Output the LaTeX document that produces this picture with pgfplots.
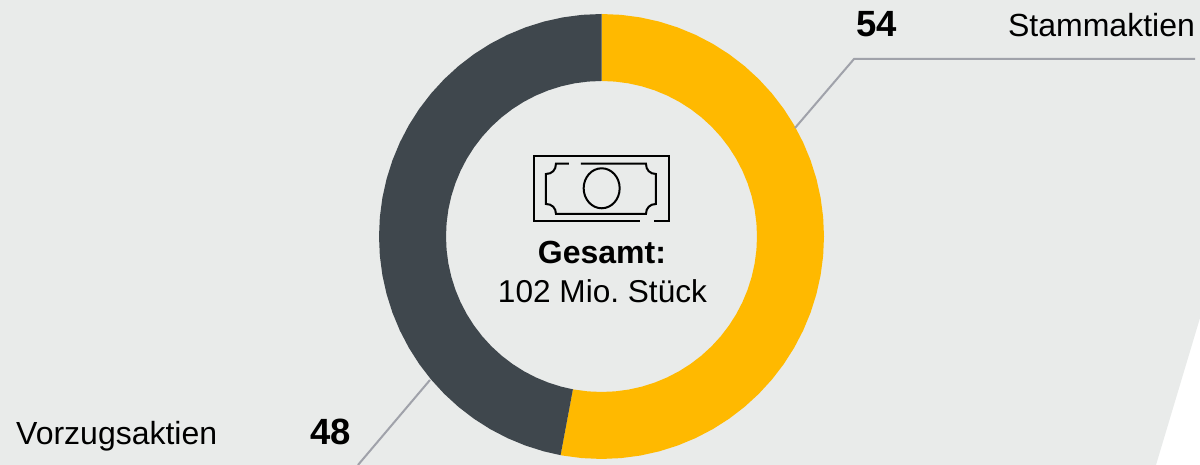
\documentclass[border=0pt]{standalone}
\usepackage{pgfplots}
\pgfplotsset{compat=1.18}
\usepackage{fontspec}
\setmainfont{Liberation Sans}
\frenchspacing
\definecolor{bg}{HTML}{E9EBEA}
\definecolor{gold}{HTML}{FFB900}
\definecolor{slate}{HTML}{3F474D}
\definecolor{leader}{HTML}{A0A2AA}
\begin{document}
\begin{tikzpicture}
\begin{axis}[
  width=1200pt, height=465pt, scale only axis,
  xmin=-601.5, xmax=598.5, ymin=-228.5, ymax=236.5,
  hide axis, no markers,
]
% background panel
\addplot[fill=bg, draw=none] coordinates {(-601.5,236.5) (598.5,236.5) (598.5,-81.5) (554.5,-228.5) (-601.5,-228.5)};
% Stammaktien 54 of 102
\addplot[data cs=polar, fill=gold, draw=none] coordinates {
(90,222.5)(85,222.5)(80,222.5)(75,222.5)(70,222.5)(65,222.5)(60,222.5)(55,222.5)(50,222.5)(45,222.5)(40,222.5)(35,222.5)(30,222.5)(25,222.5)(20,222.5)(15,222.5)(10,222.5)(5,222.5)(0,222.5)
(-5,222.5)(-10,222.5)(-15,222.5)(-20,222.5)(-25,222.5)(-30,222.5)(-35,222.5)(-40,222.5)(-45,222.5)(-50,222.5)(-55,222.5)(-60,222.5)(-65,222.5)(-70,222.5)(-75,222.5)(-80,222.5)(-85,222.5)(-90,222.5)(-95,222.5)(-100,222.5)(-100.6,222.5)
(-100.6,155.5)(-100,155.5)(-95,155.5)(-90,155.5)(-85,155.5)(-80,155.5)(-75,155.5)(-70,155.5)(-65,155.5)(-60,155.5)(-55,155.5)(-50,155.5)(-45,155.5)(-40,155.5)(-35,155.5)(-30,155.5)(-25,155.5)(-20,155.5)(-15,155.5)(-10,155.5)(-5,155.5)
(0,155.5)(5,155.5)(10,155.5)(15,155.5)(20,155.5)(25,155.5)(30,155.5)(35,155.5)(40,155.5)(45,155.5)(50,155.5)(55,155.5)(60,155.5)(65,155.5)(70,155.5)(75,155.5)(80,155.5)(85,155.5)(90,155.5)
};
% Vorzugsaktien 48 of 102
\addplot[data cs=polar, fill=slate, draw=none] coordinates {
(259.4,222.5)(255,222.5)(250,222.5)(245,222.5)(240,222.5)(235,222.5)(230,222.5)(225,222.5)(220,222.5)(215,222.5)(210,222.5)(205,222.5)(200,222.5)(195,222.5)(190,222.5)(185,222.5)(180,222.5)(175,222.5)(170,222.5)(165,222.5)(160,222.5)(155,222.5)(150,222.5)(145,222.5)(140,222.5)(135,222.5)(130,222.5)(125,222.5)(120,222.5)(115,222.5)(110,222.5)(105,222.5)(100,222.5)(95,222.5)(90,222.5)
(90,155.5)(95,155.5)(100,155.5)(105,155.5)(110,155.5)(115,155.5)(120,155.5)(125,155.5)(130,155.5)(135,155.5)(140,155.5)(145,155.5)(150,155.5)(155,155.5)(160,155.5)(165,155.5)(170,155.5)(175,155.5)(180,155.5)(185,155.5)(190,155.5)(195,155.5)(200,155.5)(205,155.5)(210,155.5)(215,155.5)(220,155.5)(225,155.5)(230,155.5)(235,155.5)(240,155.5)(245,155.5)(250,155.5)(255,155.5)(259.4,155.5)
};
% leader lines
\addplot[leader, line width=2pt] coordinates {(193.5,108.5) (252.5,177.5) (593.5,177.5)};
\addplot[leader, line width=2pt] coordinates {(-171.5,-143.5) (-243.5,-228.5)};
\begin{scope}[shift={(axis cs:-601.5,236.5)}, x=1pt, y=-1pt]
  % banknote icon
  \draw[black, line width=2pt, line join=miter]
    (640,221.5) -- (534.5,221.5) -- (534.5,156) -- (669,156) -- (669,221.5) -- (654,221.5);
  \draw[black, line width=2pt]
    (569,163.7) -- (556,163.7) .. controls (556,170) and (552,174) .. (546,174)
    -- (546,204) .. controls (552,204) and (556,208) .. (556,214)
    -- (646,214) .. controls (646,208) and (650,204) .. (656,204)
    -- (656,174) .. controls (650,174) and (646,170) .. (646,163.7) -- (581,163.7);
  \draw[black, line width=2pt] (601.7,188.3) ellipse [x radius=18pt, y radius=20pt];
  % text
  \node[anchor=base, inner sep=0pt, font=\fontsize{32}{36}\selectfont\bfseries] at (602,264) {Gesamt:};
  \node[anchor=base, inner sep=0pt, font=\fontsize{31.6}{35}\selectfont] at (602.5,303) {102 Mio. Stück};
  \node[anchor=base west, inner sep=0pt, font=\fontsize{32}{36}\selectfont] at (1008,37) {Stammaktien};
  \node[anchor=base, inner sep=0pt, font=\fontsize{36.5}{40}\selectfont\bfseries] at (877,37) {54};
  \node[anchor=base west, inner sep=0pt, font=\fontsize{32}{36}\selectfont] at (16,445) {Vorzugsaktien};
  \node[anchor=base, inner sep=0pt, font=\fontsize{36.5}{40}\selectfont\bfseries] at (331,445) {48};
\end{scope}
\end{axis}
\end{tikzpicture}
\end{document}
